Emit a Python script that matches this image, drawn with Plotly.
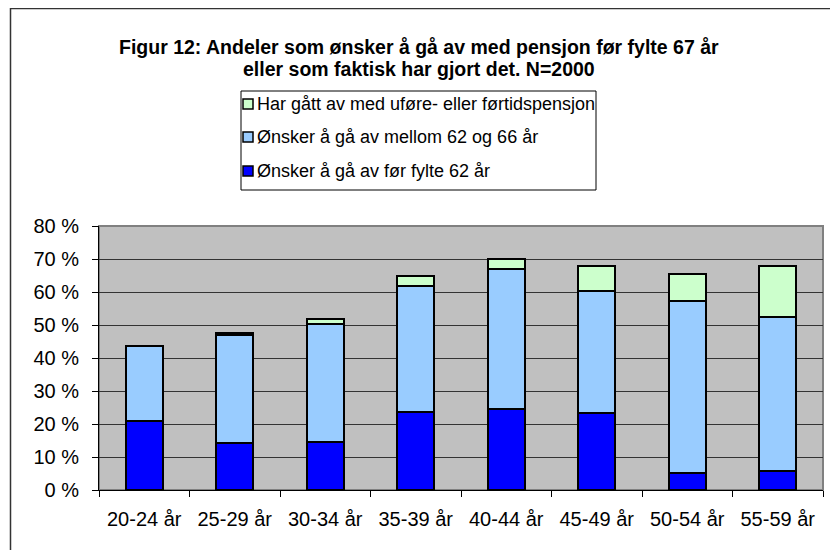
import plotly.graph_objects as go

categories = ["20-24 år", "25-29 år", "30-34 år", "35-39 år", "40-44 år", "45-49 år", "50-54 år", "55-59 år"]
before_62 = [20.8, 14.3, 14.4, 23.7, 24.6, 23.4, 5.2, 5.9]
between_62_66 = [22.8, 32.7, 35.8, 38.0, 42.3, 36.8, 52.2, 46.4]
retired = [0.0, 0.5, 1.7, 3.3, 3.1, 7.8, 8.2, 15.6]

y_tick_values = [0, 10, 20, 30, 40, 50, 60, 70, 80]
y_tick_labels = ["0 %", "10 %", "20 %", "30 %", "40 %", "50 %", "60 %", "70 %", "80 %"]

title_lines = ["Figur 12: Andeler som ønsker å gå av med pensjon før fylte 67 år",
               "eller som faktisk har gjort det. N=2000"]

s_before = "Ønsker å gå av før fylte 62 år"
s_between = "Ønsker å gå av mellom 62 og 66 år"
s_retired = "Har gått av med uføre- eller førtidspensjon"

c_before, c_between, c_retired = "#0000FF", "#99CCFF", "#CCFFCC"

FONT = "Liberation Sans, Arial, sans-serif"

# page body has an 8px margin; figure size chosen so it fits the window
OFF = 8
W, H = 830, 542
# plot area in page pixels: x 99..823, y 226..490
L, R, T, B = 99 - OFF, W - (823 - OFF), 226 - OFF, H - (490 - OFF)
pw, ph = W - L - R, H - T - B


def px_x(p):
    return (p - OFF - L) / pw


def px_y(p):
    return (H - B - (p - OFF)) / ph


fig = go.Figure()
for vals, name, col in [(before_62, s_before, c_before),
                        (between_62_66, s_between, c_between),
                        (retired, s_retired, c_retired)]:
    fig.add_trace(go.Bar(x=categories, y=vals, name=name, showlegend=False,
                         marker=dict(color=col, line=dict(color="black", width=2))))

shapes = [
    dict(type="rect", xref="paper", yref="paper", x0=0, x1=1, y0=0, y1=1,
         line=dict(color="#808080", width=2), layer="below"),
    dict(type="line", xref="paper", yref="paper",
         x0=px_x(10.5), x1=px_x(10.5), y0=px_y(8), y1=px_y(600),
         line=dict(color="#333333", width=1.5)),
    dict(type="line", xref="paper", yref="paper",
         x0=px_x(10), x1=px_x(900), y0=px_y(8.5), y1=px_y(8.5),
         line=dict(color="#333333", width=1.5)),
    # legend box
    dict(type="rect", xref="paper", yref="paper",
         x0=px_x(241), x1=px_x(596), y0=px_y(91), y1=px_y(190),
         line=dict(color="black", width=1), fillcolor="white"),
]
annotations = []
for txt, yc in zip(title_lines, [47, 69]):
    annotations.append(dict(text="<b>" + txt + "</b>", xref="paper", yref="paper",
                            x=px_x(419), y=px_y(yc), xanchor="center", yanchor="middle",
                            showarrow=False, font=dict(family=FONT, size=19.5, color="black")))
legend_rows = [(s_retired, c_retired, 104), (s_between, c_between, 137), (s_before, c_before, 171)]
for name, col, yc in legend_rows:
    shapes.append(dict(type="rect", xref="paper", yref="paper",
                       x0=px_x(243), x1=px_x(253), y0=px_y(yc - 5), y1=px_y(yc + 5),
                       line=dict(color="black", width=1.5), fillcolor=col))
    annotations.append(dict(text=name, xref="paper", yref="paper",
                            x=px_x(255), y=px_y(yc), xanchor="left", yanchor="middle",
                            showarrow=False, font=dict(family=FONT, size=18, color="black")))

fig.update_layout(
    width=W, height=H,
    margin=dict(l=L, r=R, t=T, b=B),
    barmode="stack",
    bargap=0.59,
    plot_bgcolor="#C0C0C0",
    paper_bgcolor="white",
    font=dict(family=FONT, size=20, color="black"),
    showlegend=False,
    xaxis=dict(
        showline=True, linecolor="black", linewidth=1,
        ticks="outside", ticklen=6, tickcolor="black",
        tickson="boundaries",
        showgrid=False,
        ticklabelstandoff=11,
        tickfont=dict(family=FONT, size=20),
    ),
    yaxis=dict(
        range=[0, 80],
        tickvals=y_tick_values,
        ticktext=y_tick_labels,
        showline=True, linecolor="black", linewidth=1,
        ticks="outside", ticklen=6, tickcolor="black",
        showgrid=True, gridcolor="#333333", gridwidth=1,
        zeroline=False,
        ticklabelstandoff=9,
        tickfont=dict(family=FONT, size=20),
    ),
    shapes=shapes,
    annotations=annotations,
)

fig.write_html("out.html")
